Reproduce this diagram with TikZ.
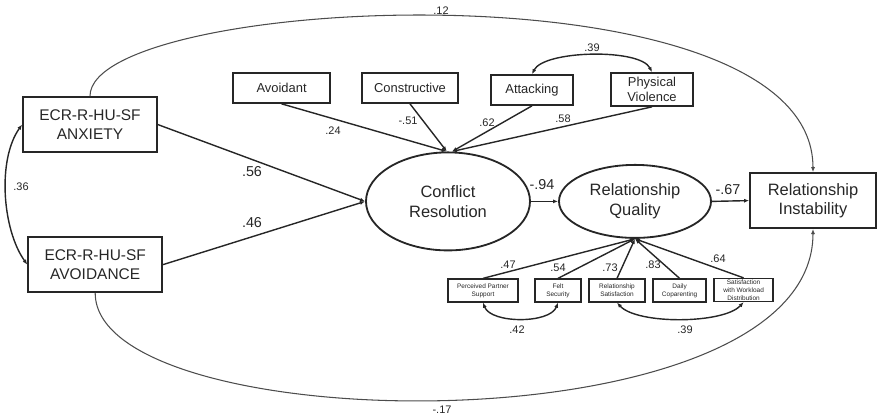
\documentclass[tikz,border=0pt]{standalone}
\usepackage{fontspec}
\setmainfont{Liberation Sans}
\usetikzlibrary{arrows.meta,positioning,shapes.geometric}

\begin{document}
\begin{tikzpicture}[font=\fontsize{9.2}{11}\selectfont, >={Latex[length=3.6pt,width=2.9pt]},
    line width=1pt, draw=black!85, text=black!85,
    bigbox/.style={draw,line width=1.3pt,align=center,inner sep=0pt,minimum height=1.375cm,
      font=\fontsize{11}{13.5}\selectfont},
    latent/.style={ellipse,draw,line width=1.3pt,align=center,inner sep=0pt,
      font=\fontsize{11.7}{14}\selectfont},
    itembox/.style={draw,line width=1.2pt,inner sep=0pt,minimum height=.75cm,align=center},
    indbox/.style={draw,line width=.9pt,inner sep=0pt,minimum height=.575cm,align=center,
      font=\fontsize{4.6}{5.6}\selectfont},
    coef/.style={font=\fontsize{7.8}{9}\selectfont},
    bigcoef/.style={font=\fontsize{10.2}{12}\selectfont},
    longpath/.style={->,line width=.75pt,draw=black!70}]
    \useasboundingbox (0,0) rectangle (22,10.475);
    % predictors and outcomes
    \node[bigbox,minimum width=3.35cm] (anx) at (2.25,7.36) {ECR-R-HU-SF\\ANXIETY};
    \node[bigbox,minimum width=3.35cm] (avo) at (2.38,3.86) {ECR-R-HU-SF\\AVOIDANCE};
    \node[latent,minimum width=4.1cm,minimum height=2.45cm] (cr) at (11.2,5.44) {Conflict\\Resolution};
    \node[latent,minimum width=3.8cm,minimum height=1.825cm] (rq) at (15.875,5.44) {Relationship\\Quality};
    \node[bigbox,minimum width=3.15cm,font=\fontsize{11.7}{14}\selectfont] (ri) at (20.325,5.46)
      {Relationship\\Instability};
    % conflict styles
    \node[itembox,minimum width=2.425cm] (avd) at (7.04,8.275) {Avoidant};
    \node[itembox,minimum width=2.4cm] (con) at (10.25,8.275) {Constructive};
    \node[itembox,minimum width=2.05cm] (att) at (13.3,8.225) {Attacking};
    \node[itembox,minimum width=2.05cm,minimum height=.825cm,font=\fontsize{9.2}{10.2}\selectfont]
      (pv) at (16.3,8.2375) {Physical\\Violence};
    % quality indicators
    \node[indbox,minimum width=1.75cm] (pps) at (12.075,3.2125) {Perceived Partner\\Support};
    \node[indbox,minimum width=1.15cm] (fs) at (13.95,3.2125) {Felt\\Security};
    \node[indbox,minimum width=1.4cm] (rs) at (15.425,3.2125) {Relationship\\Satisfaction};
    \node[indbox,minimum width=1.325cm] (dc) at (16.99,3.2125) {Daily\\Coparenting};
    \node[indbox,minimum width=1.475cm] (swd) at (18.59,3.225) {Satisfaction\\with Workload\\Distribution};

    \draw[->] (anx.east) -- (cr.west);
    \draw[->] (avo.east) -- (cr.west);
    \draw[->] (avd.south) -- ([xshift=-.03cm]cr.north);
    \draw[->] (con.south) -- ([xshift=-.03cm]cr.north);
    \draw[->] (att.south) -- ([xshift=.1cm]cr.north);
    \draw[->] (pv.south) -- ([xshift=.1cm]cr.north);
    \draw[->] (cr.east) -- (rq.west);
    \draw[->] (rq.east) -- (ri.west);
    \foreach \n in {pps,fs,rs,dc,swd}
      \draw[->] (\n.north) -- (rq.south);

    % covariances
    \draw[<->] (anx.west) .. controls +(-.625,-.875) and +(-.625,.875) .. (avo.west);
    \draw[<->] (att.north) .. controls +(.3,.6) and +(-.3,.6) .. (pv.north);
    \draw[<->] (pps.south) .. controls +(.2,-.53) and +(-.2,-.53) .. (fs.south);
    \draw[<->] (rs.south) .. controls +(.5,-.55) and +(-.5,-.55) .. (swd.south);
    \draw[longpath] (anx.north) .. controls +(0,2.55) and +(0,5.33) .. (ri.north);
    \draw[longpath] (avo.south) .. controls +(0,-3.7) and +(0,-5.55) .. (ri.south);

    % coefficients
    \node[bigcoef] (b56) at (6.3,6.175) {.56};
    \node[bigcoef] (b46) at (6.3,4.9) {.46};
    \node[bigcoef] (b94) at (13.55,5.85) {-.94};
    \node[bigcoef] (b67) at (18.2,5.725) {-.67};
    \node[coef] (c36) at (.525,5.8) {.36};
    \node[coef] (c24) at (8.325,7.2) {.24};
    \node[coef] (c51) at (10.2,7.45) {-.51};
    \node[coef] (c62) at (12.175,7.4) {.62};
    \node[coef] (c58) at (14.075,7.5) {.58};
    \node[coef] (c39a) at (14.8,9.275) {.39};
    \node[coef] (c47) at (12.7,3.85) {.47};
    \node[coef] (c54) at (13.95,3.775) {.54};
    \node[coef] (c73) at (15.25,3.775) {.73};
    \node[coef] (c83) at (16.325,3.85) {.83};
    \node[coef] (c64) at (17.95,4.0) {.64};
    \node[coef] (c42) at (12.925,2.225) {.42};
    \node[coef] (c39b) at (17.125,2.225) {.39};
    \node[coef] (c12) at (11.025,10.2) {.12};
    \node[coef] (c17) at (11.05,.225) {-.17};
  \end{tikzpicture}
\end{document}
